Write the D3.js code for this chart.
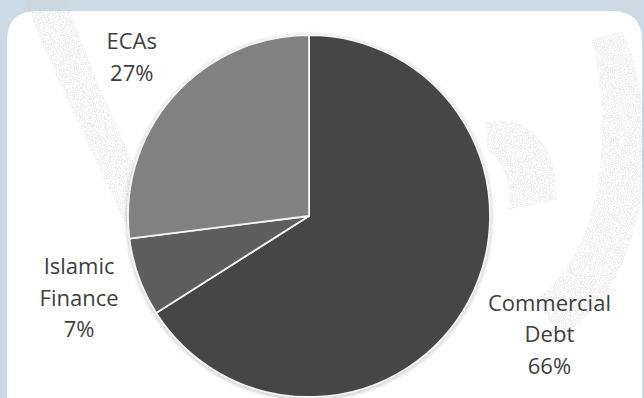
<!DOCTYPE html>
<html>
<head>
<meta charset="utf-8">
<script src="https://cdn.jsdelivr.net/npm/d3@7"></script>
<style>
  html, body { margin: 0; padding: 0; background: #cbdae4; }
  svg { display: block; }
</style>
</head>
<body>
<svg id="chart" width="644" height="398"></svg>
<script>
// Funding mix, share of total (%)
const categories = ["Commercial Debt", "Islamic Finance", "ECAs"];
const shares = [66, 7, 27];
const labelLines = [["Commercial", "Debt"], ["Islamic", "Finance"], ["ECAs"]];

const width = 644, height = 398;
const svg = d3.select("#chart");
const defs = svg.append("defs");

// soft halo around the pie edge
const shadow = defs.append("filter").attr("id", "halo")
  .attr("x", "-10%").attr("y", "-10%").attr("width", "120%").attr("height", "120%");
shadow.append("feGaussianBlur").attr("in", "SourceAlpha").attr("stdDeviation", 2).attr("result", "b");
shadow.append("feOffset").attr("in", "b").attr("dx", 0).attr("dy", 1).attr("result", "o");
shadow.append("feComponentTransfer").attr("in", "o").attr("result", "s")
  .append("feFuncA").attr("type", "linear").attr("slope", 0.3);
const m = shadow.append("feMerge");
m.append("feMergeNode").attr("in", "s");
m.append("feMergeNode").attr("in", "SourceGraphic");

// speckled watermark texture
const speck = defs.append("filter").attr("id", "speck")
  .attr("filterUnits", "userSpaceOnUse")
  .attr("x", -1000).attr("y", -1000).attr("width", 3000).attr("height", 3000);
speck.append("feTurbulence").attr("type", "fractalNoise").attr("baseFrequency", 1.1)
  .attr("numOctaves", 1).attr("seed", 4).attr("result", "n");
speck.append("feColorMatrix").attr("in", "n").attr("type", "matrix")
  .attr("values", "0 0 0 0 0.6  0 0 0 0 0.6  0 0 0 0 0.6  0 0 0 -10 5.6").attr("result", "c");
speck.append("feComposite").attr("in", "c").attr("in2", "SourceGraphic").attr("operator", "in");

// white panel
svg.append("path")
  .attr("d", (() => {
    const x0 = 7, y0 = 11, x1 = 642, r = 30;
    return `M${x0},${height} L${x0},${y0 + r} Q${x0},${y0} ${x0 + r},${y0} L${x1 - r},${y0} Q${x1},${y0} ${x1},${y0 + r} L${x1},${height} Z`;
  })())
  .attr("fill", "#ffffff");

// watermark bands
const marks = svg.append("g").attr("filter", "url(#speck)").attr("opacity", 0.3);
marks.append("path")
  .attr("d", "M24,0 L66,0 C95,80 130,160 170,235 L138,250 C100,170 60,90 24,0 Z")
  .attr("fill", "#000");
marks.append("path")
  .attr("d", "M622,30 C665,120 650,290 560,335 L535,300 C600,255 615,140 592,40 Z")
  .attr("fill", "#000");
marks.append("path")
  .attr("d", "M485,122 C530,112 560,150 556,200 L508,210 C512,180 502,160 487,150 Z")
  .attr("fill", "#000");

const cx = 309, cy = 216, radius = 181;
const colors = d3.scaleOrdinal().domain(categories).range(["#464646", "#5d5d5d", "#818181"]);

const pie = d3.pie().sort(null).value(d => d.value);
const arcs = pie(categories.map((c, i) => ({ name: c, value: shares[i], lines: labelLines[i] })));
const arc = d3.arc().innerRadius(0).outerRadius(radius);

const g = svg.append("g").attr("transform", `translate(${cx},${cy})`);

g.append("circle").attr("r", radius + 1).attr("fill", "#e4e4e4").attr("filter", "url(#halo)");

g.selectAll("path.slice")
  .data(arcs)
  .join("path")
  .attr("class", "slice")
  .attr("d", arc)
  .attr("fill", d => colors(d.data.name))
  .attr("stroke", "#f4f4f4")
  .attr("stroke-width", 1.8)
  .attr("stroke-linejoin", "round");

// labels, placed outside each slice along its bisector
const labelRadius = [268, 244, 238];
const angleNudge = [-0.045, 0.004, 0.008];
const lineH = 31.5;
const labels = g.selectAll("text.lbl")
  .data(arcs)
  .join("text")
  .attr("class", "lbl")
  .attr("text-anchor", "middle")
  .attr("font-family", "'Open Sans', sans-serif")
  .attr("font-size", 22)
  .attr("fill", "#3e3e3e")
  .attr("transform", (d, i) => {
    const a = (d.startAngle + d.endAngle) / 2 + angleNudge[i];
    const x = labelRadius[i] * Math.sin(a);
    const y = -labelRadius[i] * Math.cos(a);
    return `translate(${x},${y})`;
  });

labels.each(function (d) {
  const lines = d.data.lines.concat([d.data.value + "%"]);
  const t = d3.select(this);
  const top = -((lines.length - 1) * lineH) / 2 + 8;
  lines.forEach((s, k) => {
    t.append("tspan").attr("x", 0).attr("y", top + k * lineH).text(s);
  });
});
</script>
</body>
</html>
